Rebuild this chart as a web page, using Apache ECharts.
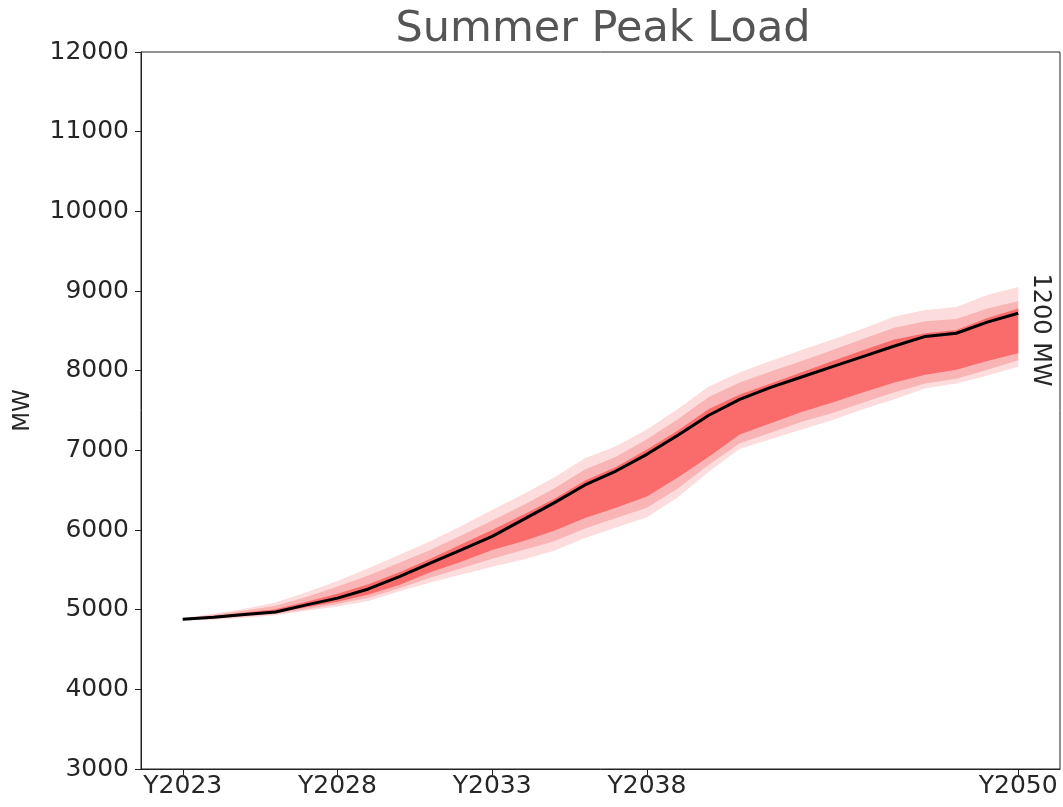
<!DOCTYPE html>
<html>
<head>
<meta charset="utf-8">
<title>Summer Peak Load</title>
<script src="https://cdn.jsdelivr.net/npm/echarts@6/dist/echarts.min.js"></script>
<style>
  html, body { margin: 0; padding: 0; background: #fff; }
  #main { width: 1063px; height: 807px; }
</style>
</head>
<body>
<div id="main"></div>
<script>
// years on the x axis and the ones that get a tick label
var years = [2023, 2024, 2025, 2026, 2027, 2028, 2029, 2030, 2031, 2032,
             2033, 2034, 2035, 2036, 2037, 2038, 2039, 2040, 2041, 2042,
             2043, 2044, 2045, 2046, 2047, 2048, 2049, 2050];
var tickYears = [2023, 2028, 2033, 2038, 2050];

// median forecast (MW)
var median = [4880, 4905, 4940, 4970, 5060, 5145, 5260, 5415, 5585, 5750,
              5920, 6130, 6340, 6565, 6740, 6950, 7190, 7440, 7640, 7790,
              7920, 8050, 8180, 8310, 8430, 8470, 8610, 8720];

// percentile bands (MW)
var p95 = [4895, 4950, 5010, 5090, 5220, 5360, 5520, 5690, 5860, 6050,
           6250, 6450, 6660, 6900, 7050, 7260, 7520, 7800, 7980, 8120,
           8260, 8390, 8530, 8680, 8760, 8800, 8950, 9050];
var p90 = [4890, 4935, 4990, 5050, 5160, 5290, 5430, 5590, 5750, 5930,
           6120, 6310, 6520, 6760, 6920, 7140, 7390, 7670, 7850, 7990,
           8120, 8260, 8400, 8540, 8620, 8650, 8780, 8870];
var p75 = [4885, 4920, 4965, 5005, 5100, 5200, 5320, 5470, 5640, 5820,
           6000, 6190, 6390, 6620, 6790, 7010, 7250, 7520, 7700, 7840,
           7980, 8120, 8260, 8390, 8470, 8510, 8660, 8780];
var p25 = [4875, 4895, 4930, 4960, 5030, 5100, 5190, 5310, 5470, 5600,
           5750, 5860, 5990, 6150, 6280, 6420, 6660, 6920, 7200, 7340,
           7480, 7600, 7730, 7850, 7950, 8010, 8120, 8220];
var p10 = [4870, 4885, 4915, 4945, 5005, 5070, 5150, 5270, 5400, 5520,
           5640, 5750, 5860, 6020, 6150, 6280, 6520, 6820, 7090, 7220,
           7360, 7470, 7600, 7730, 7840, 7900, 8010, 8130];
var p05 = [4865, 4875, 4900, 4930, 4985, 5040, 5110, 5230, 5340, 5440,
           5540, 5630, 5740, 5900, 6030, 6160, 6410, 6730, 7020, 7140,
           7260, 7380, 7520, 7640, 7780, 7840, 7940, 8050];

var rangeLabel = '1200 MW';

// data as [value, year] so the stacked dimension is the value one
function pairs(vals) {
    return years.map(function (y, i) { return [vals[i], y]; });
}
function diff(hi, lo) {
    return years.map(function (y, i) { return [hi[i] - lo[i], y]; });
}
// one band = invisible lower line + stacked filled difference
function band(name, lo, hi, color, z) {
    return [
        {
            name: name + '_base', type: 'line', stack: name, z: z,
            data: pairs(lo), encode: { x: 1, y: 0 },
            symbol: 'none', silent: true,
            lineStyle: { width: 0, opacity: 0 }
        },
        {
            name: name, type: 'line', stack: name, z: z,
            data: diff(hi, lo), encode: { x: 1, y: 0 },
            symbol: 'none', silent: true,
            lineStyle: { width: 0, opacity: 0 },
            areaStyle: { color: color, opacity: 1 }
        }
    ];
}

var fontFam = 'DejaVu Sans';
var textCol = '#262626';

var myChart = echarts.init(document.getElementById('main'));

var series = []
    .concat(band('outer', p05, p95, '#fcdcdc', 1))
    .concat(band('middle', p10, p90, '#f9b5b5', 2))
    .concat(band('inner', p25, p75, '#fa6c6c', 3));
series.push({
    name: 'median', type: 'line', z: 8,
    data: pairs(median), encode: { x: 1, y: 0 },
    symbol: 'none', silent: true,
    lineStyle: { color: '#000', width: 3 }
});

option = {
    animation: false,
    backgroundColor: '#fff',
    title: {
        text: 'Summer Peak Load',
        left: 598, top: 3,
        textAlign: 'center',
        textStyle: { fontFamily: fontFam, fontSize: 43, fontWeight: 'normal', color: '#555' }
    },
    grid: {
        left: 141, right: 3, top: 52, bottom: 38,
        containLabel: false, outerBoundsMode: 'none',
        show: true, borderColor: '#222', borderWidth: 1, backgroundColor: 'transparent'
    },
    xAxis: {
        type: 'value',
        min: 2021.65, max: 2051.35,
        z: 20,
        splitLine: { show: false },
        axisLine: { show: true, lineStyle: { color: '#222', width: 1 } },
        axisTick: { show: true, customValues: tickYears, length: 6, lineStyle: { color: '#222' } },
        axisLabel: {
            customValues: tickYears,
            formatter: function (v) { return 'Y' + v; },
            fontFamily: fontFam, fontSize: 25, color: textCol, margin: 5
        }
    },
    yAxis: {
        type: 'value',
        min: 3000, max: 12000, interval: 1000,
        z: 20,
        name: 'MW', nameLocation: 'middle', nameGap: 106,
        nameTextStyle: { fontFamily: fontFam, fontSize: 23, color: textCol },
        splitLine: { show: false },
        axisLine: { show: true, lineStyle: { color: '#222', width: 1 } },
        axisTick: { show: true, length: 6, lineStyle: { color: '#222' } },
        axisLabel: {
            showMinLabel: true, showMaxLabel: true,
            formatter: function (v) { return String(v); },
            fontFamily: fontFam, fontSize: 25, color: textCol, margin: 12
        }
    },
    graphic: [{
        type: 'text',
        x: 1040, y: 330,
        rotation: -Math.PI / 2,
        style: {
            text: rangeLabel,
            fontFamily: fontFam, fontSize: 24, fill: textCol,
            textAlign: 'center', textVerticalAlign: 'middle'
        }
    }],
    series: series
};

myChart.setOption(option);
</script>
</body>
</html>
